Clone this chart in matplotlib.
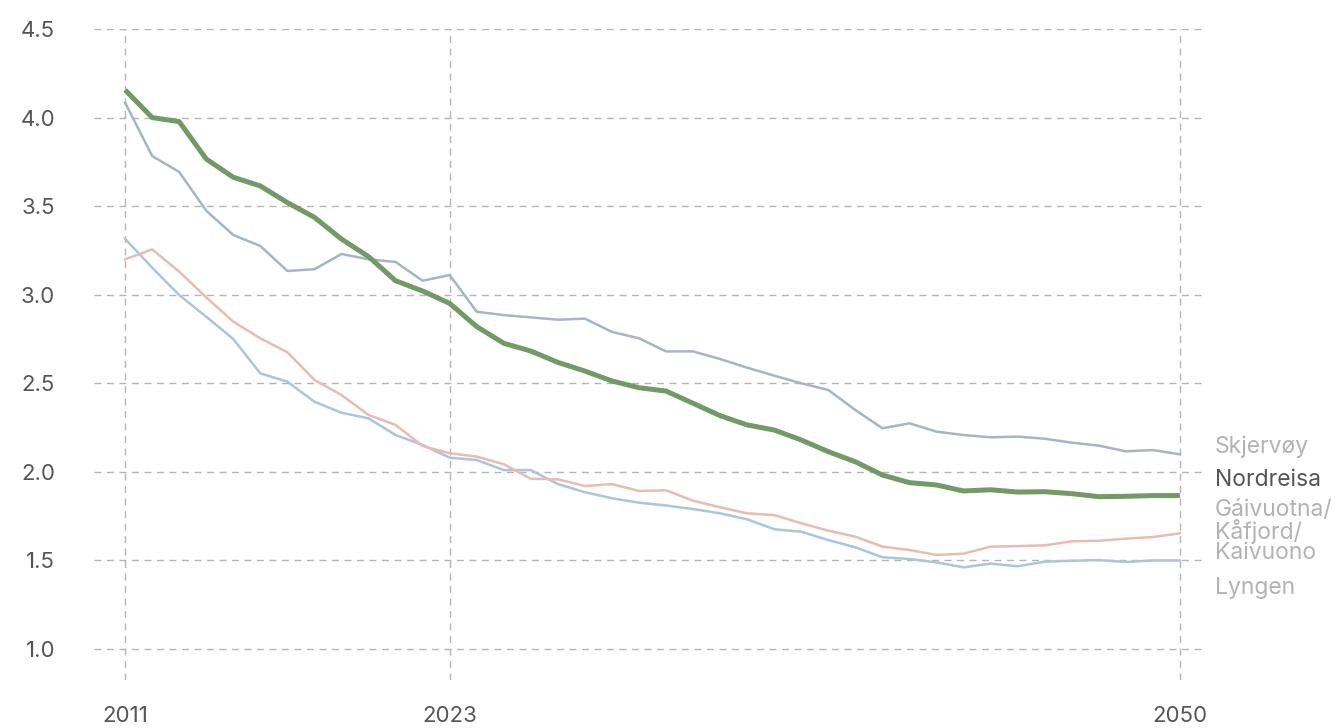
import matplotlib
matplotlib.use("Agg")
import matplotlib.pyplot as plt
import numpy as np

years = list(range(2011, 2051))

skjervoy = [4.084, 3.783, 3.693, 3.474, 3.337, 3.275, 3.134, 3.144, 3.23, 3.20,
            3.185, 3.079, 3.111, 2.904, 2.885, 2.872, 2.859, 2.865, 2.79, 2.754,
            2.68, 2.68, 2.637, 2.588, 2.543, 2.50, 2.462, 2.349, 2.246, 2.274,
            2.227, 2.208, 2.195, 2.199, 2.187, 2.165, 2.148, 2.116, 2.123, 2.099]

nordreisa = [4.156, 4.00, 3.977, 3.766, 3.663, 3.614, 3.52, 3.437, 3.314, 3.215,
             3.079, 3.021, 2.951, 2.82, 2.726, 2.682, 2.618, 2.569, 2.513, 2.475,
             2.456, 2.387, 2.317, 2.265, 2.236, 2.18, 2.114, 2.057, 1.982, 1.939,
             1.926, 1.892, 1.899, 1.886, 1.888, 1.877, 1.86, 1.862, 1.866, 1.866]

gaivuotna = [3.20, 3.256, 3.13, 2.985, 2.848, 2.754, 2.675, 2.519, 2.434, 2.321,
             2.265, 2.146, 2.105, 2.086, 2.043, 1.961, 1.958, 1.92, 1.931, 1.892,
             1.896, 1.837, 1.80, 1.766, 1.756, 1.71, 1.668, 1.634, 1.578, 1.559,
             1.531, 1.538, 1.578, 1.581, 1.585, 1.608, 1.611, 1.623, 1.632, 1.653]

lyngen = [3.315, 3.153, 2.998, 2.876, 2.75, 2.556, 2.509, 2.396, 2.334, 2.302,
          2.208, 2.152, 2.08, 2.067, 2.01, 2.01, 1.931, 1.885, 1.851, 1.826,
          1.81, 1.79, 1.766, 1.732, 1.676, 1.662, 1.615, 1.574, 1.518, 1.508,
          1.489, 1.461, 1.482, 1.467, 1.493, 1.498, 1.502, 1.491, 1.50, 1.50]

y_ticks = [1.0, 1.5, 2.0, 2.5, 3.0, 3.5, 4.0, 4.5]
x_ticks = [2011, 2023, 2050]

labels = ["Skjervøy", "Nordreisa", "Gáivuotna/\nKåfjord/\nKaivuono", "Lyngen"]
label_y = [2.14, 1.954, 1.665, 1.344]

plt.rcParams['font.family'] = ['Inter', 'DejaVu Sans']

fig = plt.figure(figsize=(13.38, 7.28), dpi=100)
ax = fig.add_axes([94/1338, 1 - 680/728, (1207-94)/1338, (680-29)/728])

grid_col = "#b5b5b5"
for yv in y_ticks:
    ax.axhline(yv, color=grid_col, lw=1.0, ls=(0, (5, 4)), zorder=1)
for xv in x_ticks:
    ax.axvline(xv, color=grid_col, lw=1.0, ls=(0, (5, 4)), zorder=1)

ax.plot(years, lyngen, color="#a9c6dd", lw=1.8, zorder=3, solid_joinstyle="round")
ax.plot(years, gaivuotna, color="#e8bcb1", lw=1.8, zorder=3, solid_joinstyle="round")
ax.plot(years, skjervoy, color="#a5b6c3", lw=1.8, zorder=3, solid_joinstyle="round")
ax.plot(years, nordreisa, color="#729966", lw=3.6, zorder=4, solid_joinstyle="round",
        solid_capstyle="butt")

ax.set_xlim(2009.85, 2051.0)
ax.set_ylim(0.825, 4.5)
ax.set_xticks(x_ticks)
ax.set_xticklabels([str(x) for x in x_ticks])
ax.set_yticks(y_ticks)
ax.set_yticklabels([f"{v:.1f}" for v in y_ticks])
ax.tick_params(length=0, labelsize=16, colors="#555555")
ax.tick_params(axis='x', pad=19)
ax.tick_params(axis='y', pad=28)
for s in ax.spines.values():
    s.set_visible(False)

label_colors = ["#b3b3b3", "#555555", "#b3b3b3", "#b3b3b3"]
for lab, yv, c in zip(labels, label_y, label_colors):
    ax.text(2051.3, yv, lab, color=c, fontsize=16.5, ha="left", va="center",
            linespacing=0.9, clip_on=False)

fig.savefig("out.png", dpi=100)
